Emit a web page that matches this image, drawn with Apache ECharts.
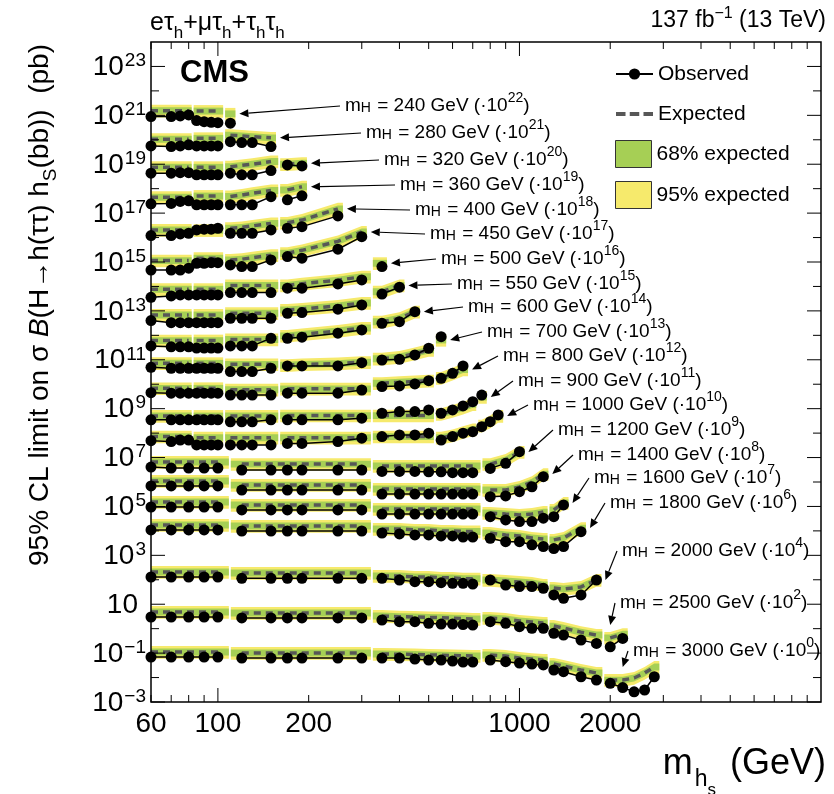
<!DOCTYPE html>
<html><head><meta charset="utf-8">
<script src="https://cdn.jsdelivr.net/npm/echarts@6/dist/echarts.min.js"></script>
<style>html,body{margin:0;padding:0;background:#fff}#c{width:834px;height:794px}</style>
</head><body><div id="c"></div>
<script>
const FONT = '"Liberation Sans", Arial, Helvetica, sans-serif';

// ---- rows: heavy Higgs mass and the power of ten each row is scaled by
const rowMassH = [240,280,320,360,400,450,500,550,600,700,800,900,1000,1200,1400,1600,1800,2000,2500,3000];
const rowScaleExp = [22,21,20,19,18,17,16,15,14,13,12,11,10,9,8,7,6,4,2,0];

// ---- m_hs points (GeV); null separates analysis categories. Limits in pb (unscaled)
const mhs_240 = [60,70,75,80,null,85,90,95,100,null,110];
const obs_240 = [0.089,0.089,0.095,0.104,null,0.061,0.055,0.052,0.050,null,0.048];
const exp_240 = [0.155,0.155,0.155,0.155,null,0.150,0.150,0.150,0.150,null,0.115];

const mhs_280 = [60,70,75,80,null,85,90,95,100,null,110,120,130,150];
const obs_280 = [0.056,0.053,0.056,0.062,null,0.056,0.056,0.056,0.056,null,0.084,0.077,0.077,0.053];
const exp_280 = [0.105,0.105,0.105,0.105,null,0.115,0.115,0.115,0.115,null,0.155,0.145,0.135,0.12];

const mhs_320 = [60,70,75,80,null,85,90,95,100,null,110,120,130,150,null,170,190];
const obs_320 = [0.043,0.043,0.045,0.045,null,0.037,0.037,0.037,0.037,null,0.043,0.037,0.037,0.055,null,0.094,0.085];
const exp_320 = [0.075,0.075,0.075,0.075,null,0.075,0.075,0.075,0.075,null,0.079,0.09,0.10,0.13,null,0.10,0.11];

const mhs_360 = [60,70,75,80,null,85,90,95,100,null,110,120,130,150,null,170,190];
const obs_360 = [0.024,0.025,0.030,0.032,null,0.022,0.022,0.022,0.022,null,0.022,0.022,0.022,0.047,null,0.035,0.051];
const exp_360 = [0.045,0.045,0.045,0.045,null,0.05,0.05,0.05,0.05,null,0.048,0.055,0.065,0.085,null,0.089,0.12];

const mhs_400 = [60,70,75,80,null,85,90,95,100,null,110,120,130,150,null,170,190,250];
const obs_400 = [0.012,0.012,0.014,0.015,null,0.0205,0.022,0.022,0.024,null,0.015,0.015,0.015,0.0205,null,0.024,0.028,0.077];
const exp_400 = [0.0205,0.0205,0.0205,0.0205,null,0.02,0.02,0.02,0.02,null,0.024,0.026,0.03,0.038,null,0.04,0.052,0.15];

const mhs_450 = [60,70,75,80,null,85,90,95,100,null,110,120,130,150,null,170,190,250,300];
const obs_450 = [0.0047,0.0047,0.0047,0.0056,null,0.0089,0.0089,0.0094,0.0094,null,0.0076,0.0065,0.0065,0.0122,null,0.0166,0.0143,0.0333,0.109];
const exp_450 = [0.0114,0.0114,0.0114,0.0114,null,0.0143,0.0143,0.0143,0.0143,null,0.0122,0.013,0.015,0.019,null,0.023,0.030,0.07,0.17];

const mhs_500 = [60,70,75,80,null,85,90,95,100,null,110,120,130,150,null,170,190,250,300,null,350];
const obs_500 = [0.0036,0.0041,0.0045,0.0045,null,0.0045,0.0045,0.0045,0.0045,null,0.0056,0.0056,0.0056,0.0056,null,0.0085,0.0085,0.0127,0.0185,null,0.065];
const exp_500 = [0.0077,0.0077,0.0077,0.0077,null,0.0077,0.0077,0.0077,0.0077,null,0.011,0.011,0.011,0.011,null,0.011,0.013,0.018,0.025,null,0.089];

const mhs_550 = [60,70,75,80,null,85,90,95,100,null,110,120,130,150,null,170,190,250,300,null,350,400];
const obs_550 = [0.0040,0.0033,0.0033,0.0033,null,0.0033,0.0033,0.0033,0.0033,null,0.0050,0.0050,0.0050,0.0050,null,0.0080,0.0085,0.0117,0.0175,null,0.049,0.093];
const exp_550 = [0.0068,0.0068,0.0068,0.0068,null,0.0068,0.0068,0.0068,0.0068,null,0.008,0.008,0.008,0.008,null,0.011,0.012,0.016,0.021,null,0.061,0.11];

const mhs_600 = [60,70,75,80,null,85,90,95,100,null,110,120,130,150,null,170,190,250,300,null,350,400,450];
const obs_600 = [0.0037,0.0034,0.0034,0.0034,null,0.0030,0.0030,0.0030,0.0030,null,0.0037,0.0037,0.0037,0.0076,null,0.0076,0.0084,0.0122,0.0166,null,0.031,0.036,0.093];
const exp_600 = [0.0061,0.0061,0.0061,0.0061,null,0.0061,0.0061,0.0061,0.0061,null,0.0068,0.0068,0.0068,0.0068,null,0.0095,0.011,0.015,0.02,null,0.036,0.05,0.093];

const mhs_700 = [60,70,75,80,null,85,90,95,100,null,110,120,130,150,null,170,190,250,300,null,350,400,450,500,null,550];
const obs_700 = [0.0049,0.0045,0.0045,0.0045,null,0.0045,0.0045,0.0045,0.0045,null,0.0033,0.0033,0.0033,0.0045,null,0.0056,0.0056,0.0056,0.0076,null,0.0098,0.0105,0.0158,0.0296,null,0.0885];
const exp_700 = [0.0072,0.0072,0.0072,0.0072,null,0.0072,0.0072,0.0072,0.0072,null,0.0065,0.0065,0.0065,0.0065,null,0.006,0.0065,0.007,0.008,null,0.011,0.013,0.018,0.025,null,0.065];

const mhs_800 = [60,70,75,80,null,85,90,95,100,null,110,120,130,150,null,170,190,250,300,null,350,400,450,500,null,550,600,650];
const obs_800 = [0.0045,0.0043,0.0043,0.0043,null,0.0043,0.0043,0.0043,0.0043,null,0.0036,0.0036,0.0036,0.0036,null,0.0043,0.0043,0.0043,0.0058,null,0.0080,0.0085,0.0103,0.014,null,0.0175,0.028,0.056];
const exp_800 = [0.0068,0.0068,0.0068,0.0068,null,0.0068,0.0068,0.0068,0.0068,null,0.006,0.006,0.006,0.006,null,0.0065,0.0065,0.0065,0.0065,null,0.011,0.012,0.013,0.014,null,0.018,0.027,0.04];

const mhs_900 = [60,70,75,80,null,85,90,95,100,null,110,120,130,150,null,170,190,250,300,null,350,400,450,500,null,550,600,650,700,null,750];
const obs_900 = [0.0035,0.0035,0.0035,0.0035,null,0.0035,0.0035,0.0035,0.0035,null,0.0029,0.0029,0.0029,0.0035,null,0.0035,0.0035,0.0035,0.0041,null,0.0065,0.0076,0.0076,0.0089,null,0.0065,0.0089,0.0129,0.0194,null,0.036];
const exp_900 = [0.005,0.005,0.005,0.005,null,0.005,0.005,0.005,0.005,null,0.005,0.005,0.005,0.005,null,0.0052,0.0052,0.0052,0.0052,null,0.0052,0.0052,0.0052,0.0052,null,0.006,0.008,0.011,0.015,null,0.03];

const mhs_1000 = [60,70,75,80,null,85,90,95,100,null,110,120,130,150,null,170,190,250,300,null,350,400,450,500,null,550,600,650,700,null,750,800,850];
const obs_1000 = [0.0049,0.0045,0.0052,0.0052,null,0.0033,0.0033,0.0033,0.0033,null,0.0033,0.0033,0.0033,0.0033,null,0.0038,0.0038,0.0045,0.0062,null,0.0072,0.0084,0.0084,0.0099,null,0.0052,0.0072,0.0099,0.0115,null,0.0184,0.0294,0.0553];
const exp_1000 = [0.0072,0.0072,0.0072,0.0072,null,0.0065,0.0065,0.0065,0.0065,null,0.0065,0.0065,0.0065,0.0065,null,0.0065,0.0065,0.0065,0.0065,null,0.0072,0.0072,0.0072,0.0072,null,0.0065,0.008,0.011,0.014,null,0.02,0.03,0.05];

const mhs_1200 = [60,70,80,90,100,null,120,150,170,190,250,300,null,350,400,450,500,550,600,650,700,null,800,900,1000];
const obs_1200 = [0.0041,0.0037,0.0037,0.0037,0.0037,null,0.0031,0.0031,0.0031,0.0031,0.0031,0.0031,null,0.0027,0.0027,0.0027,0.0026,0.0026,0.0024,0.0024,0.0024,null,0.0036,0.0058,0.0174];
const exp_1200 = [0.0066,0.0066,0.0066,0.0066,0.0066,null,0.0054,0.0054,0.0054,0.0054,0.0054,0.0054,null,0.0045,0.0045,0.0045,0.0045,0.0045,0.0045,0.0045,0.0045,null,0.0054,0.008,0.017];

const mhs_1400 = [60,70,80,90,100,null,120,150,170,190,250,300,null,350,400,450,500,550,600,650,700,null,800,900,1000,1100,1200];
const obs_1400 = [0.0069,0.0069,0.0069,0.0069,0.0069,null,0.0047,0.0047,0.0047,0.0047,0.0047,0.0047,null,0.0032,0.0032,0.0032,0.0032,0.0032,0.0032,0.0032,0.0032,null,0.0025,0.0027,0.0040,0.0064,0.0165];
const exp_1400 = [0.011,0.011,0.011,0.011,0.011,null,0.0075,0.0075,0.0075,0.0075,0.0075,0.0075,null,0.0052,0.0052,0.0052,0.0052,0.0052,0.0052,0.0052,0.0052,null,0.0047,0.0047,0.0063,0.0099,0.021];

const mhs_1600 = [60,70,80,90,100,null,120,150,170,190,250,300,null,350,400,450,500,550,600,650,700,null,800,900,1000,1100,1200,null,1300,1400];
const obs_1600 = [0.0095,0.0095,0.0095,0.0095,0.0095,null,0.0072,0.0072,0.0072,0.0072,0.0072,0.0072,null,0.0049,0.0049,0.0049,0.0049,0.0049,0.0049,0.0049,0.0049,null,0.0038,0.0028,0.0024,0.0024,0.0033,null,0.0038,0.0115];
const exp_1600 = [0.0152,0.0152,0.0152,0.0152,0.0152,null,0.0115,0.0115,0.0115,0.0115,0.0115,0.0115,null,0.0079,0.0079,0.0079,0.0079,0.0079,0.0079,0.0079,0.0079,null,0.0054,0.0049,0.0045,0.0049,0.0059,null,0.0072,0.0139];

const mhs_1800 = [60,70,80,90,100,null,120,150,170,190,250,300,null,350,400,450,500,550,600,650,700,null,800,900,1000,1100,1200,null,1300,1400,1600];
const obs_1800 = [0.0109,0.0109,0.0109,0.0109,0.0109,null,0.0099,0.0099,0.0099,0.0099,0.0099,0.0099,null,0.0082,0.0075,0.0068,0.0068,0.0062,0.0062,0.0056,0.0056,null,0.0050,0.0036,0.0036,0.0027,0.0023,null,0.0019,0.0023,0.0093];
const exp_1800 = [0.0175,0.0175,0.0175,0.0175,0.0175,null,0.016,0.016,0.016,0.016,0.016,0.016,null,0.012,0.012,0.011,0.011,0.010,0.010,0.0095,0.0095,null,0.0082,0.0068,0.0062,0.0051,0.0047,null,0.0043,0.0051,0.013];

const mhs_2000 = [60,70,80,90,100,null,120,150,170,190,250,300,null,350,400,450,500,550,600,650,700,null,800,900,1000,1100,1200,null,1300,1400,1600,1800];
const obs_2000 = [0.013,0.013,0.013,0.013,0.013,null,0.0115,0.0115,0.0115,0.0115,0.0115,0.0115,null,0.0115,0.0098,0.0084,0.0084,0.0076,0.0072,0.0072,0.0067,null,0.0098,0.0061,0.0053,0.0053,0.0045,null,0.0024,0.00175,0.0024,0.0098];
const exp_2000 = [0.021,0.021,0.021,0.021,0.021,null,0.019,0.019,0.019,0.019,0.019,0.019,null,0.0143,0.0143,0.013,0.013,0.012,0.012,0.011,0.011,null,0.0098,0.0089,0.0081,0.0074,0.0061,null,0.0046,0.0042,0.0051,0.0098];

const mhs_2500 = [60,70,80,90,100,null,120,150,170,190,250,300,null,350,400,450,500,550,600,650,700,null,800,900,1000,1100,1200,null,1300,1400,1600,1800,null,2000,2200];
const obs_2500 = [0.030,0.030,0.030,0.030,0.030,null,0.0274,0.0274,0.0274,0.0274,0.0274,0.0274,null,0.0226,0.0193,0.0193,0.0166,0.0155,0.0155,0.0148,0.0141,null,0.0193,0.0166,0.0121,0.0104,0.0104,null,0.0065,0.0055,0.0034,0.0025,null,0.0018,0.0040];
const exp_2500 = [0.048,0.048,0.048,0.048,0.048,null,0.044,0.044,0.044,0.044,0.044,0.044,null,0.033,0.031,0.03,0.029,0.028,0.027,0.026,0.025,null,0.0274,0.025,0.0207,0.0188,0.017,null,0.0128,0.0106,0.0072,0.0055,null,0.0042,0.006];

const mhs_3000 = [60,70,80,90,100,null,120,150,170,190,250,300,null,350,400,450,500,550,600,650,700,null,800,900,1000,1100,1200,null,1300,1400,1600,1800,null,2000,2200,2400,2600,2800];
const obs_3000 = [0.069,0.069,0.069,0.069,0.069,null,0.063,0.063,0.063,0.063,0.063,0.063,null,0.063,0.063,0.057,0.052,0.052,0.0475,0.0433,0.0433,null,0.052,0.0445,0.039,0.0358,0.0327,null,0.0204,0.0174,0.0108,0.0079,null,0.0058,0.0039,0.0026,0.0031,0.0108];
const exp_3000 = [0.111,0.111,0.111,0.111,0.111,null,0.101,0.101,0.101,0.101,0.101,0.101,null,0.092,0.09,0.088,0.085,0.082,0.08,0.078,0.076,null,0.084,0.076,0.063,0.057,0.052,null,0.0358,0.0297,0.0204,0.0154,null,0.0079,0.0079,0.0096,0.0153,0.027];

// expected-band edges relative to the expected limit
const band68 = [0.72, 1.38];
const band95 = [0.53, 1.75];

// axis ticks / labels
const xMin = 60, xMax = 10000, yMin = 1e-3, yMax = 1e24;
const xTickLabels = [60,100,200,1000,2000];
const xTicksMajor = [100,1000];
const xTicksMinor = [60,70,80,90,200,300,400,500,600,700,800,900,2000,3000,4000,5000,6000,7000,8000,9000];
const yTickExps = [-3,-2,-1,0,1,2,3,4,5,6,7,8,9,10,11,12,13,14,15,16,17,18,19,20,21,22,23];
const yLabelExps = [-3,-1,1,3,5,7,9,11,13,15,17,19,21,23];

// annotation text positions (px) and which m_hs point each arrow points at
const annotPos = [[345,103],[366,130],[384,157],[400,182],[415,207],[430,231],[441,256],[457,281],[468,304],[487,329],[503,353],[518,378],[533,402],[558,427],[578,452],[594,475],[610,500],[622,548],[620,600],[633,648]];
const annotTip = [110,150,190,190,250,300,350,400,450,550,650,750,850,1000,1200,1400,1600,1800,2000,2200];
const annotAbove = [false,false,false,false,false,false,false,false,false,false,false,false,false,false,false,false,false,false,true,true];

const rowData = {
  240:[mhs_240,obs_240,exp_240],280:[mhs_280,obs_280,exp_280],320:[mhs_320,obs_320,exp_320],
  360:[mhs_360,obs_360,exp_360],400:[mhs_400,obs_400,exp_400],450:[mhs_450,obs_450,exp_450],
  500:[mhs_500,obs_500,exp_500],550:[mhs_550,obs_550,exp_550],600:[mhs_600,obs_600,exp_600],
  700:[mhs_700,obs_700,exp_700],800:[mhs_800,obs_800,exp_800],900:[mhs_900,obs_900,exp_900],
  1000:[mhs_1000,obs_1000,exp_1000],1200:[mhs_1200,obs_1200,exp_1200],1400:[mhs_1400,obs_1400,exp_1400],
  1600:[mhs_1600,obs_1600,exp_1600],1800:[mhs_1800,obs_1800,exp_1800],2000:[mhs_2000,obs_2000,exp_2000],
  2500:[mhs_2500,obs_2500,exp_2500],3000:[mhs_3000,obs_3000,exp_3000]
};

// ---- build segments
const segs = [];
rowMassH.forEach((mH, r) => {
  const [xs, os, es] = rowData[mH];
  const sc = Math.pow(10, rowScaleExp[r]);
  let cur = null;
  xs.forEach((x, i) => {
    if (x === null) { cur = null; return; }
    if (!cur) { cur = {row: r, pts: []}; segs.push(cur); }
    cur.pts.push({x: x, o: os[i] * sc, e: es[i] * sc});
  });
});
segs.forEach((s, i) => {
  s.prev = (i > 0 && segs[i-1].row === s.row) ? segs[i-1] : null;
  s.next = (i < segs.length-1 && segs[i+1].row === s.row) ? segs[i+1] : null;
});

const GREEN = '#a6cf55', YELLOW = '#f6ea6c', DASH = '#575757';

function bandSeries(name, ratio, color, z) {
  return {
    type: 'custom', name: name, z: z, silent: true, clip: true,
    itemStyle: {color: color},
    encode: {x: 0, y: 1},
    data: segs.map((s, i) => [s.pts[0].x, s.pts[0].e, i]),
    renderItem: function (params, api) {
      const s = segs[api.value(2)];
      const hi = s.pts.map(p => api.coord([p.x, p.e * ratio[1]]));
      const lo = s.pts.map(p => api.coord([p.x, p.e * ratio[0]]));
      const x0 = api.coord([s.pts[0].x, s.pts[0].e])[0];
      const x1 = api.coord([s.pts[s.pts.length-1].x, s.pts[s.pts.length-1].e])[0];
      let xl = x0 - 4, xr = x1 + 5;
      if (s.prev) { const px = api.coord([s.prev.pts[s.prev.pts.length-1].x, 1])[0]; xl = (px + x0) / 2 + 1; }
      if (s.pts[0].x === xMin) xl = x0;
      if (s.next) { const nx = api.coord([s.next.pts[0].x, 1])[0]; xr = (nx + x1) / 2 - 1; }
      const pts = [[xl, hi[0][1]]].concat(hi).concat([[xr, hi[hi.length-1][1]], [xr, lo[lo.length-1][1]]]).concat(lo.slice().reverse()).concat([[xl, lo[0][1]]]);
      return {type: 'polygon', shape: {points: pts}, style: {fill: color}};
    }
  };
}

const series = [bandSeries('95% expected', band95, YELLOW, 1), bandSeries('68% expected', band68, GREEN, 2)];
segs.forEach(s => {
  series.push({
    type: 'line', name: 'Expected', z: 3, silent: true, symbol: 'none', animation: false,
    lineStyle: {color: DASH, width: 3.5, type: [7, 5]}, itemStyle: {color: DASH},
    data: s.pts.map(p => [p.x, p.e])
  });
});
segs.forEach(s => {
  series.push({
    type: 'line', name: 'Observed', z: 4, silent: true, symbol: 'circle', symbolSize: 11, animation: false,
    lineStyle: {color: '#000', width: 1.5}, itemStyle: {color: '#000'},
    data: s.pts.map(p => [p.x, p.o])
  });
});

// ticks and labels drawn through the axes' own scales
series.push({
  type: 'custom', silent: true, clip: false, z: 20, encode: {x: 0, y: 1},
  data: xTicksMinor.map(v => [v, yMin, 7]).concat(xTicksMajor.map(v => [v, yMin, 14])),
  renderItem: function (params, api) {
    const cs = params.coordSys;
    const x = api.coord([api.value(0), yMin])[0];
    const L = api.value(2);
    const st = {stroke: '#000', lineWidth: 1};
    return {type: 'group', children: [
      {type: 'line', shape: {x1: x, y1: cs.y + cs.height, x2: x, y2: cs.y + cs.height - L}, style: st},
      {type: 'line', shape: {x1: x, y1: cs.y, x2: x, y2: cs.y + L}, style: st}
    ]};
  }
});
series.push({
  type: 'custom', silent: true, clip: false, z: 20, encode: {x: 0, y: 1},
  data: yTickExps.map(e => [xMin, Math.pow(10, e), yLabelExps.indexOf(e) >= 0 ? 14 : 8]),
  renderItem: function (params, api) {
    const cs = params.coordSys;
    const y = api.coord([xMin, api.value(1)])[1];
    const L = api.value(2);
    const st = {stroke: '#000', lineWidth: 1};
    return {type: 'group', children: [
      {type: 'line', shape: {x1: cs.x, y1: y, x2: cs.x + L, y2: y}, style: st},
      {type: 'line', shape: {x1: cs.x + cs.width, y1: y, x2: cs.x + cs.width - L, y2: y}, style: st}
    ]};
  }
});
series.push({
  type: 'custom', silent: true, clip: false, z: 20, encode: {x: 0, y: 1},
  data: xTickLabels.map(v => [v, yMin]),
  renderItem: function (params, api) {
    const cs = params.coordSys;
    const x = api.coord([api.value(0), yMin])[0];
    return {type: 'text', x: x, y: cs.y + cs.height + 8,
      style: {text: String(api.value(0)), font: '28px ' + FONT, fill: '#000', align: 'center', verticalAlign: 'top'}};
  }
});
series.push({
  type: 'custom', silent: true, clip: false, z: 20, encode: {x: 0, y: 1},
  data: yLabelExps.map(e => [xMin, Math.pow(10, e), e]),
  renderItem: function (params, api) {
    const cs = params.coordSys;
    const y = api.coord([xMin, api.value(1)])[1];
    const e = api.value(2);
    const txt = e === 1 ? '{b|10}' : '{b|10}{s|' + String(e).replace('-', '\u2212') + '}';
    return {type: 'text', x: cs.x - 5 - (e === 1 ? 8 : 0), y: y,
      style: {text: txt, align: 'right', verticalAlign: 'middle', fill: '#000',
        rich: {b: {font: '28px ' + FONT, lineHeight: 30, verticalAlign: 'bottom'},
               s: {font: '19px ' + FONT, lineHeight: 30, verticalAlign: 'top', padding: [0, 0, 0, 1]}}}};
  }
});

// annotations with arrows
series.push({
  type: 'custom', silent: true, clip: false, z: 25, encode: {x: 0, y: 1},
  data: rowMassH.map((m, r) => {
    const [xs, , es] = rowData[m];
    const k = xs.indexOf(annotTip[r]);
    return [annotTip[r], es[k] * Math.pow(10, rowScaleExp[r]), r];
  }),
  renderItem: function (params, api) {
    const r = api.value(2);
    const p = api.coord([api.value(0), api.value(1)]);
    const tip = annotAbove[r] ? [p[0], p[1] - 13] : [p[0] + 9, p[1]];
    const tx = annotPos[r][0], ty = annotPos[r][1];
    const start = [tx - 5, ty + 3];
    const ang = Math.atan2(tip[1] - start[1], tip[0] - start[0]);
    const ah = 9, aw = 4;
    const bx = tip[0] - ah * Math.cos(ang), by = tip[1] - ah * Math.sin(ang);
    const head = [[tip[0], tip[1]], [bx + aw * Math.sin(ang), by - aw * Math.cos(ang)], [bx - aw * Math.sin(ang), by + aw * Math.cos(ang)]];
    const sup = String(rowScaleExp[r]);
    return {type: 'group', children: [
      {type: 'line', shape: {x1: start[0], y1: start[1], x2: bx, y2: by}, style: {stroke: '#000', lineWidth: 1.2}},
      {type: 'polygon', shape: {points: head}, style: {fill: '#000'}},
      {type: 'text', x: tx, y: ty, style: {
        text: '{m|m}{sub|H}{m| = ' + rowMassH[r] + ' GeV (\u00b710}{sup|' + sup + '}{m|)}',
        verticalAlign: 'middle', align: 'left',
        rich: {m: {font: '19px ' + FONT, fill: '#000', lineHeight: 24, verticalAlign: 'bottom'},
               sub: {font: '14px ' + FONT, fill: '#000', lineHeight: 24, verticalAlign: 'bottom', padding: [0,1,0,0]},
               sup: {font: '14px ' + FONT, fill: '#000', lineHeight: 24, verticalAlign: 'top'}}}}
    ]};
  }
});

const chart = echarts.init(document.getElementById('c'), null, {renderer: 'canvas'});
chart.setOption({
  animation: false,
  backgroundColor: '#fff',
  grid: {left: 151, right: 13, top: 42, bottom: 92, show: true, borderColor: '#000', borderWidth: 1.5, backgroundColor: 'transparent', z: 30},
  xAxis: {type: 'log', logBase: 10, min: xMin, max: xMax, axisLine: {show: false}, axisTick: {show: false}, axisLabel: {show: false}, splitLine: {show: false}},
  yAxis: {type: 'log', logBase: 10, min: yMin, max: yMax, axisLine: {show: false}, axisTick: {show: false}, axisLabel: {show: false}, splitLine: {show: false}},
  legend: [
    {orient: 'vertical', left: 615, top: 63, padding: 0, itemWidth: 37, itemHeight: 14, itemGap: 18,
     textStyle: {fontSize: 21, fontFamily: FONT, color: '#000', lineHeight: 22},
     data: [{name: 'Observed'},
            {name: 'Expected', icon: 'path://M0,0h9v4h-9zM13,0h9v4h-9zM26,0h9v4h-9z', itemStyle: {color: DASH}}]},
    {orient: 'vertical', left: 615, top: 140, padding: 0, itemWidth: 36, itemHeight: 27, itemGap: 13,
     textStyle: {fontSize: 21, fontFamily: FONT, color: '#000', lineHeight: 22},
     data: [{name: '68% expected', icon: 'rect', itemStyle: {color: GREEN, borderColor: '#333', borderWidth: 1}},
            {name: '95% expected', icon: 'rect', itemStyle: {color: YELLOW, borderColor: '#333', borderWidth: 1}}]}
  ],
  graphic: [
    {type: 'text', left: 150, top: 11, style: {text: '{n|e\u03c4}{s|h}{n|+\u03bc\u03c4}{s|h}{n|+\u03c4}{s|h}{n|\u03c4}{s|h}', fill: '#000',
      rich: {n: {font: '25px ' + FONT, lineHeight: 28, verticalAlign: 'top'},
             s: {font: '17px ' + FONT, lineHeight: 19, verticalAlign: 'top', padding: [14, 0, 0, 0]}}}},
    {type: 'text', right: 8, top: 3, style: {text: '{n|137 fb}{p|\u22121}{n| (13 TeV)}', fill: '#000',
      rich: {n: {font: '23px ' + FONT, lineHeight: 26, verticalAlign: 'bottom', padding: [6, 0, 0, 0]},
             p: {font: '16px ' + FONT, lineHeight: 18, verticalAlign: 'top'}}}},
    {type: 'text', left: 180, top: 58, style: {text: 'CMS', font: 'bold 31px ' + FONT, fill: '#000'}},
    {type: 'text', right: 8, top: 746, style: {text: '{m|m}{h|h}{s|s}{m| (GeV)}', fill: '#000',
      rich: {m: {font: '36px ' + FONT, lineHeight: 40, verticalAlign: 'top'},
             h: {font: '23px ' + FONT, lineHeight: 24, verticalAlign: 'top', padding: [22, 0, 0, 2]},
             s: {font: '17px ' + FONT, lineHeight: 18, verticalAlign: 'top', padding: [36, 4, 0, 0]}}}},
    {type: 'text', x: 20, y: 44, rotation: Math.PI / 2,
      style: {text: '95% CL limit on \u03c3 {i|B}(H\u2192h(\u03c4\u03c4) h{s|S}(bb))  (pb)', font: '28px ' + FONT, fill: '#000', align: 'right', verticalAlign: 'top',
        rich: {i: {font: 'italic 28px ' + FONT}, s: {font: '19px ' + FONT, verticalAlign: 'bottom', lineHeight: 40}}}}
  ],
  series: series
});
</script>
</body></html>
